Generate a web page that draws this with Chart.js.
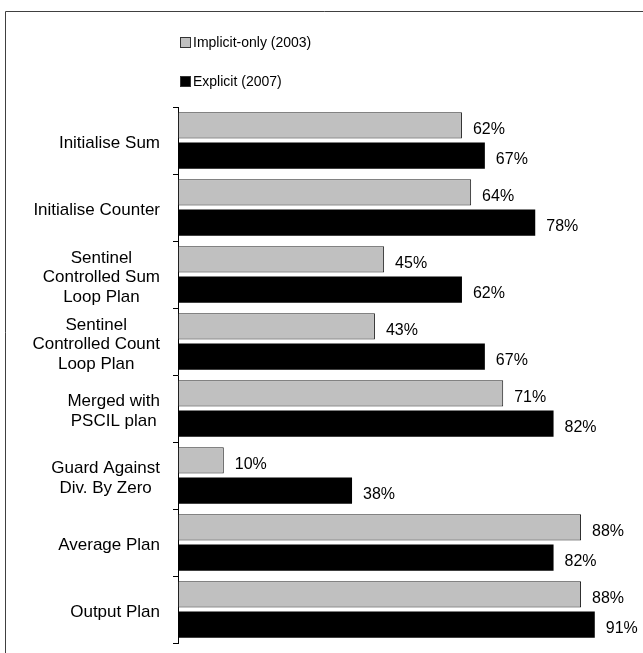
<!DOCTYPE html>
<html>
<head>
<meta charset="utf-8">
<script src="https://cdn.jsdelivr.net/npm/chart.js@4.4.1/dist/chart.umd.min.js"></script>
<style>
    body { margin: 0; background: #fff; overflow: hidden; }
    #wrap { position: relative; width: 643px; height: 653px; }
</style>
</head>
<body>
<div id="wrap"><canvas id="plan-chart"></canvas></div>
<script>
// data
const categories = [
    ['Initialise Sum'],
    ['Initialise Counter'],
    ['Sentinel', 'Controlled Sum', 'Loop Plan'],
    ['Sentinel', 'Controlled Count', 'Loop Plan'],
    ['Merged with', 'PSCIL plan'],
    ['Guard Against', 'Div. By Zero'],
    ['Average Plan'],
    ['Output Plan'],
];
const implicitOnly = [62, 64, 45, 43, 71, 10, 88, 88];
const explicit = [67, 78, 62, 67, 82, 38, 82, 91];
const seriesNames = ['Implicit-only (2003)', 'Explicit (2007)'];

const FONT = 'Arial, "Liberation Sans", sans-serif';

const framePlugin = {
    id: 'frame',
    beforeDraw: function(chart) {
        const ctx = chart.ctx;
        ctx.save();
        ctx.strokeStyle = '#404040';
        ctx.lineWidth = 1;
        ctx.beginPath();
        ctx.moveTo(5.5, chart.height);
        ctx.lineTo(5.5, 11.5);
        ctx.lineTo(chart.width, 11.5);
        ctx.stroke();
        ctx.restore();
    }
};

// stacked legend like the original
const legendPlugin = {
    id: 'stackedLegend',
    afterDraw: function(chart) {
        const ctx = chart.ctx;
        ctx.save();
        ctx.font = '14px ' + FONT;
        ctx.textBaseline = 'middle';
        ctx.textAlign = 'left';
        chart.data.datasets.forEach((ds, i) => {
            const y = 43 + i * 39;
            ctx.fillStyle = ds.backgroundColor;
            ctx.fillRect(180.5, y - 5.5, 10, 10);
            ctx.strokeStyle = '#333';
            ctx.lineWidth = 1;
            ctx.strokeRect(180.5, y - 5.5, 10, 10);
            ctx.fillStyle = '#000';
            ctx.fillText(ds.label, 193, y);
        });
        ctx.restore();
    }
};

// category labels: block right-aligned, lines centered
const categoryLabels = {
    id: 'categoryLabels',
    afterDraw: function(chart) {
        const ctx = chart.ctx;
        const yScale = chart.scales.y;
        ctx.save();
        ctx.font = '17px ' + FONT;
        ctx.textBaseline = 'middle';
        ctx.textAlign = 'center';
        ctx.fillStyle = '#000';
        const right = 160;
        const lineH = 19.5;
        chart.data.labels.forEach((lines, i) => {
            const w = Math.max(...lines.map(l => ctx.measureText(l).width));
            const cx = right - w / 2;
            const cy = yScale.getPixelForValue(i) + 3;
            lines.forEach((line, k) => {
                ctx.fillText(line, cx, cy + (k - (lines.length - 1) / 2) * lineH);
            });
        });
        ctx.restore();
    }
};

const valueLabels = {
    id: 'valueLabels',
    afterDatasetsDraw: function(chart) {
        const ctx = chart.ctx;
        ctx.save();
        ctx.font = '16px ' + FONT;
        ctx.textBaseline = 'middle';
        ctx.textAlign = 'left';
        ctx.fillStyle = '#000';
        chart.data.datasets.forEach((ds, i) => {
            chart.getDatasetMeta(i).data.forEach((bar, j) => {
                ctx.fillText(ds.data[j] + '%', bar.x + 11, bar.y + 4);
            });
        });
        ctx.restore();
    }
};

const ctx = document.getElementById('plan-chart').getContext('2d');
const planChart = new Chart(ctx, {
    type: 'bar',
    data: {
        labels: categories,
        datasets: [{
            label: seriesNames[0],
            data: implicitOnly,
            backgroundColor: '#c0c0c0',
            borderColor: '#222',
            borderWidth: 1,
            borderSkipped: false,
            categoryPercentage: 0.9,
            barPercentage: 0.87,
        }, {
            label: seriesNames[1],
            data: explicit,
            backgroundColor: '#000',
            borderColor: '#000',
            borderWidth: 0,
            categoryPercentage: 0.9,
            barPercentage: 0.87,
        }],
    },
    options: {
        indexAxis: 'y',
        responsive: true,
        maintainAspectRatio: false,
        animation: false,
        layout: {
            padding: { top: 107, bottom: 10, left: 173, right: 7 },
        },
        scales: {
            x: {
                display: false,
                min: 0,
                max: 100,
            },
            y: {
                ticks: { display: false },
                grid: {
                    offset: true,
                    drawOnChartArea: false,
                    drawTicks: true,
                    tickLength: 5,
                    color: '#000',
                },
                border: { display: true, color: '#000', width: 1 },
            },
        },
        plugins: {
            legend: { display: false },
            tooltip: { enabled: false },
        },
    },
    plugins: [framePlugin, legendPlugin, categoryLabels, valueLabels],
});
</script>
</body>
</html>
